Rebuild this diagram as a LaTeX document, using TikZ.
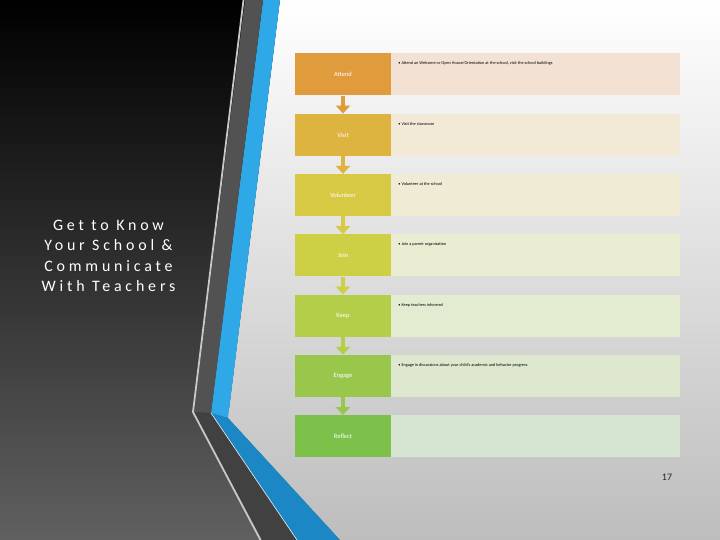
\documentclass[tikz,border=0pt]{standalone}
\usepackage{fontspec}
\setmainfont{Carlito}
\newfontfamily\titlefont[LetterSpace=24]{Carlito}
\usetikzlibrary{arrows.meta,calc}
\definecolor{c1}{HTML}{E09B3D}\definecolor{r1}{HTML}{F3E2D3}
\definecolor{c2}{HTML}{DDB43F}\definecolor{r2}{HTML}{F2E9D6}
\definecolor{c3}{HTML}{D8C945}\definecolor{r3}{HTML}{EFEBD5}
\definecolor{c4}{HTML}{CDCF45}\definecolor{r4}{HTML}{EAEDD2}
\definecolor{c5}{HTML}{B4CE4A}\definecolor{r5}{HTML}{E3EBD1}
\definecolor{c6}{HTML}{98C74B}\definecolor{r6}{HTML}{DDE8CF}
\definecolor{c7}{HTML}{7EC14A}\definecolor{r7}{HTML}{D6E5D1}
\definecolor{bluelight}{HTML}{2EA8E6}
\definecolor{bluedark}{HTML}{1B87C4}
\definecolor{grayv}{HTML}{525252}
\definecolor{grayd}{HTML}{414141}
\definecolor{lightline}{HTML}{C8C8C8}
\definecolor{bgmid}{HTML}{3E3E3E}
\definecolor{bgbot}{HTML}{606060}
\definecolor{panelbot}{HTML}{BDBDBD}
\begin{document}
\begin{tikzpicture}[x=1bp,y=-1bp,
  lbox/.style={minimum width=96bp,minimum height=42bp,inner sep=0pt,text=white,
    font=\fontsize{6.5}{7}\selectfont},
  rbox/.style={minimum width=289bp,minimum height=42bp,inner sep=0pt,anchor=west},
  btext/.style={anchor=base west,inner sep=0pt,text=black,font=\fontsize{4.3}{5}\selectfont},
  conn/.style={line width=4.5bp,-{Triangle[width=14bp,length=8bp]}},
  title/.style={align=center,text=white,inner sep=0pt,font=\titlefont\fontsize{16}{20.5}\selectfont}]
\useasboundingbox (0,0) rectangle (720,540);
% backgrounds
\shade[top color=black,middle color=bgmid,bottom color=bgbot] (0,0) rectangle (720,540);
\shade[top color=white,bottom color=panelbot] (280,0) -- (720,0) -- (720,540) -- (340,540) -- (228,418) -- cycle;
\fill[bluelight] (263,0) -- (280,0) -- (228,418) -- (211,413) -- cycle;
\fill[bluedark] (211,413) -- (228,418) -- (340,540) -- (297,540) -- cycle;
\fill[grayv] (245,0) -- (263,0) -- (211,413) -- (194,412) -- cycle;
\fill[grayd] (194,412) -- (211,413) -- (297,540) -- (262,540) -- cycle;
\draw[lightline,line width=1.8bp] (243.5,0) -- (193,412) -- (260.5,540);
\draw[white!90!bluelight,line width=0.6bp] (211,413) -- (297,540);
% title
\node[title] (title) at (108.5,256) {Get to Know\\Your School \&\\Communicate\\With Teachers};
% rows
\node[lbox,fill=c1] (attend) at (343,74.5) {Attend};
\node[rbox,fill=r1] (attendd) at (attend.east) {};
\node[btext] (t1) at ($(attendd.north west)+(7,11.5)$) {\textbullet\ Attend an Welcome or Open House/Orientation at the school, visit the school buildings};
\node[lbox,fill=c2] (visit) at (343,134.8) {Visit};
\node[rbox,fill=r2] (visitd) at (visit.east) {};
\node[btext] (t2) at ($(visitd.north west)+(7,11.5)$) {\textbullet\ Visit the classroom};
\node[lbox,fill=c3] (volunteer) at (343,195.1) {Volunteer};
\node[rbox,fill=r3] (volunteerd) at (volunteer.east) {};
\node[btext] (t3) at ($(volunteerd.north west)+(7,11.5)$) {\textbullet\ Volunteer at the school};
\node[lbox,fill=c4] (join) at (343,255.4) {Join};
\node[rbox,fill=r4] (joind) at (join.east) {};
\node[btext] (t4) at ($(joind.north west)+(7,11.5)$) {\textbullet\ Join a parent organization};
\node[lbox,fill=c5] (keep) at (343,315.7) {Keep};
\node[rbox,fill=r5] (keepd) at (keep.east) {};
\node[btext] (t5) at ($(keepd.north west)+(7,11.5)$) {\textbullet\ Keep teachers informed};
\node[lbox,fill=c6] (engage) at (343,376) {Engage};
\node[rbox,fill=r6] (engaged) at (engage.east) {};
\node[btext] (t6) at ($(engaged.north west)+(7,11.5)$) {\textbullet\ Engage in discussions about your child's academic and behavior progress};
\node[lbox,fill=c7] (reflect) at (343,436.3) {Reflect};
\node[rbox,fill=r7] (reflectd) at (reflect.east) {};
% connectors
\draw[conn,c1] (attend.south) -- (visit.north);
\draw[conn,c2] (visit.south) -- (volunteer.north);
\draw[conn,c3] (volunteer.south) -- (join.north);
\draw[conn,c4] (join.south) -- (keep.north);
\draw[conn,c5] (keep.south) -- (engage.north);
\draw[conn,c6] (engage.south) -- (reflect.north);
% page number
\node[inner sep=0pt,text=black!85,font=\fontsize{10}{12}\selectfont] (pg) at (667,477) {17};
\end{tikzpicture}
\end{document}
